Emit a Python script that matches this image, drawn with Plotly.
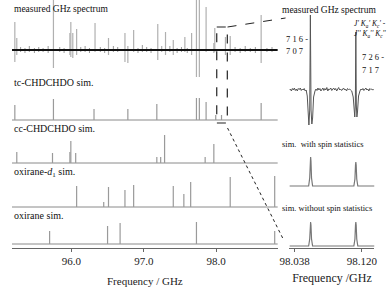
import plotly.graph_objects as go

W, H = 392, 289
FONT = "Liberation Serif"

# ---------------- data: left panel (frequency GHz, heights in arbitrary px-like units) -------------
meas_freq = [95.22, 95.247, 95.753, 95.98, 95.993, 96.02, 96.073, 96.327, 96.513, 96.74, 96.78,
             96.86, 97.193, 97.247, 97.30, 97.407, 97.567, 97.66, 97.727, 97.767, 97.86, 97.967,
             97.98, 98.127, 98.193, 98.62]
meas_up = [28, 12, 52, 17, 28, 17, 21, 27, 12, 17, 4, 20, 26, 4, 18, 10, 13, 17, 52, 52, 43, 7,
           22, 13, 14, 35]
meas_down = [12, 5, 18, 5, 7, 8, 5, 2, 5, 12, 13, 2, 10, 2, 5, 5, 2, 5, 27, 27, 2, 3, 2, 5, 5, 13]

noise_freq = [95.30, 95.36, 95.42, 95.49, 95.55, 95.61, 95.68, 95.84, 95.90, 96.13, 96.19, 96.25,
              96.40, 96.46, 96.58, 96.64, 96.92, 96.98, 97.04, 97.10, 97.36, 97.46, 97.52, 97.60,
              98.26, 98.33, 98.40, 98.47, 98.54, 98.70, 98.77]
noise_up = [3, 2, 4, 2, 3, 2, 4, 3, 2, 3, 4, 2, 3, 2, 4, 3, 2, 5, 3, 2, 4, 2, 3, 2, 3, 2, 4, 2, 3, 2, 3]
noise_down = [2, 3, 2, 3, 2, 2, 3, 2, 3, 2, 2, 3, 2, 3, 2, 2, 3, 2, 2, 3, 2, 3, 2, 3, 2, 3, 2, 2, 3, 2, 2]

tc_freq = [95.22, 95.753, 96.313, 96.78, 97.18, 97.727, 97.767, 97.86, 97.993, 98.073, 98.62]
tc_int = [15, 21, 11, 11, 16, 22, 22, 18, 5, 5, 17]

cc_freq = [95.247, 95.74, 95.98, 95.993, 96.06, 97.18, 97.233, 97.287, 97.847, 97.967]
cc_int = [11, 10, 11, 22, 10, 6, 6, 28, 6, 19]

d1_freq = [96.073, 96.447, 96.513, 96.74, 96.86, 97.407, 97.553, 97.647, 98.193, 98.807]
d1_int = [21, 5, 20, 17, 22, 21, 13, 25, 30, 31]

ox_freq = [95.70, 96.50, 96.673, 97.727, 98.807]
ox_int = [13, 18, 21, 22, 13]

left_ticks = [96.0, 97.0, 98.0]
left_ticklabels = ["96.0", "97.0", "98.0"]

# ---------------- data: right (zoomed) panel ----------------
zm_freq = [98.0318, 98.0330, 98.0342, 98.0354, 98.0366, 98.0378, 98.0390, 98.0402, 98.0414,
           98.0426, 98.0438, 98.0450, 98.0462, 98.0474, 98.0486, 98.0498, 98.0510, 98.0522,
           98.0535, 98.0547, 98.0555, 98.0565, 98.0573, 98.0581, 98.0591, 98.0600, 98.0612,
           98.0629, 98.0641, 98.0653, 98.0665, 98.0677, 98.0689, 98.0701, 98.0713, 98.0725,
           98.0737, 98.0749, 98.0761, 98.0773, 98.0785, 98.0797, 98.0809, 98.0821, 98.0833,
           98.0845, 98.0857, 98.0869, 98.0881, 98.0893, 98.0905, 98.0917, 98.0929, 98.0941,
           98.0953, 98.0965, 98.0977, 98.0989, 98.1001, 98.1013, 98.1025, 98.1037, 98.1049,
           98.1061, 98.1076, 98.1094, 98.1106, 98.1113, 98.1120, 98.1126, 98.1132, 98.1139,
           98.1146, 98.1159, 98.1176, 98.1188, 98.1200, 98.1212, 98.1224, 98.1236, 98.1248,
           98.1260, 98.1272, 98.1284, 98.1296, 98.1308, 98.1320, 98.1332, 98.1344]
zm_int = [0, 1, -1, 1.5, 0, 2, -0.5, 1, -1, 1.5, 0.5, 2, -0.5, 1, 0, 1.5, -1, 0,
          -6, -28, -35, -20, 75, -20, -34, -28, -7,
          -1, 1, -0.5, 2, 0, 1.5, -1, 1, 2, -0.5, 1.5, 0, 2.5, -1, 1, 0.5, 2, -0.5,
          1, 2, 0, 1.5, -1, 1, 2.5, 0, 1, -0.5, 1.5, 2, 0, 1, -1, 1.5, 0.5, 1,
          0, -1, -7, -22, -27, -15, 58, -15, -27, -22, -6, -1,
          1, 0, 1.5, -0.5, 1, 2, 0, 1, -1, 1.5, 0.5, 1, 0, 0.5]

spin_freq = [98.0318, 98.0552, 98.0565, 98.0572, 98.0576, 98.0580, 98.0587, 98.0600,
             98.1102, 98.1115, 98.1122, 98.1126, 98.1130, 98.1137, 98.1150, 98.1353]
spin_int = [0, 0, 8, 25, 29, 25, 8, 0, 0, 7, 21, 24, 21, 7, 0, 0]
nospin_int = [0, 0, 7, 21, 24, 21, 7, 0, 0, 7, 21, 24, 21, 7, 0, 0]

right_ticks = [98.038, 98.120]
right_ticklabels = ["98.038", "98.120"]

# ---------------- layout constants ----------------
LX0, LX1 = 95.18, 98.85
RX0, RX1 = 98.0318, 98.1353
B_MEAS, B_TC, B_CC, B_D1, B_OX = 50, 120, 163, 207, 244
R_MEAS, R_SPIN, R_NOSPIN = 90, 186, 246
YBOT = 248


def sticks(freqs, ups, downs, base):
    xs, ys = [], []
    for f, u, d in zip(freqs, ups, downs):
        xs += [f, f, None]
        ys += [base + d, base - u, None]
    return xs, ys


fig = go.Figure()
GRAY = "#9a9a9a"
BASEG = "#8a8a8a"

# left baselines for sim rows
for b in [B_TC, B_CC, B_D1, B_OX]:
    fig.add_trace(go.Scatter(x=[LX0, LX1], y=[b, b], mode="lines",
                             line=dict(color=BASEG, width=1), hoverinfo="skip"))

# measured sticks
xs, ys = sticks(noise_freq, noise_up, noise_down, B_MEAS)
fig.add_trace(go.Scatter(x=xs, y=ys, mode="lines", line=dict(color="#999999", width=1)))
xs, ys = sticks(meas_freq, meas_up, meas_down, B_MEAS)
fig.add_trace(go.Scatter(x=xs, y=ys, mode="lines", line=dict(color="#b0b0b0", width=1.2)))
fig.add_trace(go.Scatter(x=[LX0, LX1], y=[B_MEAS, B_MEAS], mode="lines",
                         line=dict(color="#111111", width=2)))

for freqs, ints, base in [(tc_freq, tc_int, B_TC), (cc_freq, cc_int, B_CC),
                          (d1_freq, d1_int, B_D1), (ox_freq, ox_int, B_OX)]:
    xs, ys = sticks(freqs, ints, [0] * len(ints), base)
    fig.add_trace(go.Scatter(x=xs, y=ys, mode="lines", line=dict(color=GRAY, width=1.2)))

# right panel traces
fig.add_trace(go.Scatter(x=zm_freq, y=[R_MEAS - v for v in zm_int], mode="lines",
                         line=dict(color="#555555", width=1), xaxis="x2", yaxis="y2"))
fig.add_trace(go.Scatter(x=spin_freq, y=[R_SPIN - v for v in spin_int], mode="lines",
                         line=dict(color="#777777", width=1.2), xaxis="x2", yaxis="y2"))
fig.add_trace(go.Scatter(x=spin_freq, y=[R_NOSPIN - v for v in nospin_int], mode="lines",
                         line=dict(color="#777777", width=1.2), xaxis="x2", yaxis="y2"))

ydom = [1 - YBOT / H, 1]
fig.update_layout(
    width=W, height=H, margin=dict(l=0, r=0, t=0, b=0),
    paper_bgcolor="white", plot_bgcolor="white", showlegend=False,
    font=dict(family=FONT, color="#222222", size=11),
    xaxis=dict(domain=[2 / W, 277 / W], range=[LX0, LX1], anchor="y",
               showgrid=False, zeroline=False, showline=True, linecolor="#666666", linewidth=1,
               ticks="outside", ticklen=3, tickcolor="#666666",
               tickvals=left_ticks, ticktext=left_ticklabels,
               tickfont=dict(family=FONT, size=11, color="#222222"),
               title=dict(text="Frequency / GHz", standoff=11,
                          font=dict(family=FONT, size=11, color="#222222"))),
    yaxis=dict(domain=ydom, range=[YBOT, 0], anchor="x", visible=False),
    xaxis2=dict(domain=[289 / W, 377 / W], range=[RX0, RX1], anchor="y2",
                showgrid=False, zeroline=False, showline=True, linecolor="#666666", linewidth=1,
                ticks="outside", ticklen=3, tickcolor="#666666",
                tickvals=right_ticks, ticktext=right_ticklabels,
                tickfont=dict(family=FONT, size=11, color="#222222"),
                title=dict(text="Frequency /GHz", standoff=7,
                           font=dict(family=FONT, size=12, color="#222222"))),
    yaxis2=dict(domain=ydom, range=[YBOT, 0], anchor="x2", visible=False),
)


def px(x):
    return x / W


def py(y):
    return 1 - y / H


def label(text, x, y, size=10, xanchor="left"):
    fig.add_annotation(text=text, x=px(x), y=py(y), xref="paper", yref="paper",
                       xanchor=xanchor, yanchor="middle", showarrow=False,
                       font=dict(family=FONT, size=size, color="#111111"))


label("measured GHz spectrum", 2, 9, 9.5)
label("tc-CHDCHDO sim.", 2, 83, 10)
label("cc-CHDCHDO sim.", 2, 128, 10)
label("oxirane-<i>d</i><sub>1</sub> sim.", 2, 172, 10)
label("oxirane sim.", 2, 215, 10)

label("measured GHz spectrum", 330, 10, 9.5, "center")
label("7 1 6 -", 283, 39, 8.5)
label("7 0 7", 283, 51, 8.5)
label("<i>J' K<sub>a</sub>' K<sub>c</sub>' -</i>", 391, 24, 7.5, "right")
label("<i>J'' K<sub>a</sub>'' K<sub>c</sub>''</i>", 391, 34, 7.5, "right")
label("7 2 6 -", 362, 57, 8.5)
label("7 1 7", 362, 70, 8.5)
label("sim.  with spin statistics", 279, 144, 8.5)
label("sim. without spin statistics", 279, 208, 8.5)

# dashed zoom box and connectors
fig.add_shape(type="rect", xref="x", yref="y", x0=98.007, x1=98.153, y0=27, y1=123,
              line=dict(color="#222222", width=1.2, dash="dash"))
fig.add_shape(type="line", xref="paper", yref="paper", x0=px(225), y0=py(27), x1=px(285), y1=py(18),
              line=dict(color="#222222", width=1, dash="dash"))
fig.add_shape(type="line", xref="paper", yref="paper", x0=px(225), y0=py(128), x1=px(282), y1=py(238),
              line=dict(color="#222222", width=1, dash="dot"))

fig.write_html("out.html", config={"displayModeBar": False},
               post_script="document.body.style.margin='0';document.body.style.overflow='hidden';")
